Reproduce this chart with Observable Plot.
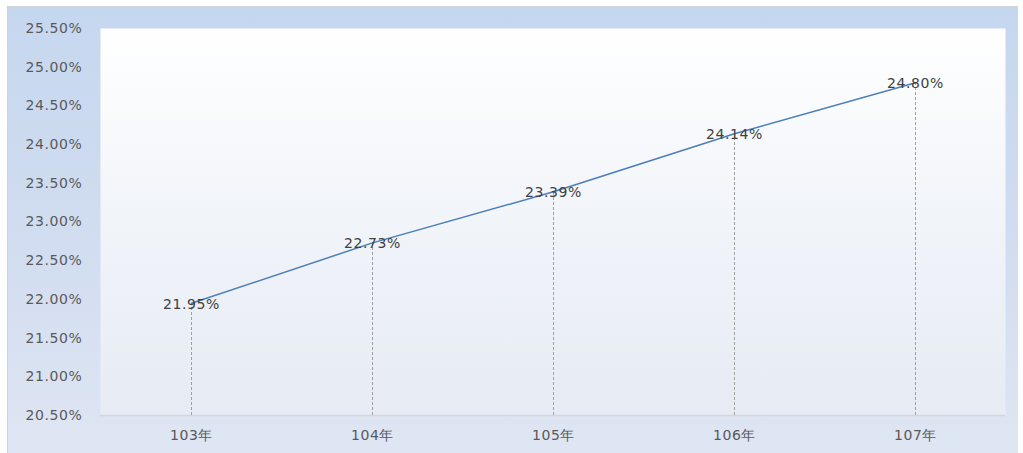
<!DOCTYPE html>
<html>
<head>
<meta charset="utf-8">
<script src="https://cdn.jsdelivr.net/npm/d3@7"></script>
<script src="https://cdn.jsdelivr.net/npm/@observablehq/plot@0.6"></script>
<style>
  html, body { margin: 0; padding: 0; background: #ffffff; }
  #wrap { position: relative; width: 1023px; height: 453px; overflow: hidden; }
  #bg { position: absolute; left: 7px; top: 6px; width: 1010px; height: 447px;
        border-top: 1px solid #d0d4da; border-left: 1px solid #d0d4da;
        background: linear-gradient(to bottom, #c5d7ef 0%, #d2ddf0 55%, #dfe6f3 100%); }
  #chart { position: absolute; left: 0; top: 0; }
  #chart text { letter-spacing: 0.6px; }
</style>
</head>
<body>
<div id="wrap">
  <div id="bg"></div>
  <div id="chart"></div>
</div>
<script>
const years = ["103年", "104年", "105年", "106年", "107年"];
const values = [21.95, 22.73, 23.39, 24.14, 24.80];
const yTicks = [20.5, 21, 21.5, 22, 22.5, 23, 23.5, 24, 24.5, 25, 25.5];

const data = years.map((y, i) => ({year: y, value: values[i]}));

const chart = Plot.plot({
  width: 1023,
  height: 453,
  marginLeft: 100,
  marginRight: 18,
  marginTop: 28,
  marginBottom: 38,
  style: {background: "transparent", fontFamily: "DejaVu Sans, sans-serif", fontSize: "14px", color: "#595959"},
  x: {type: "point", domain: years, padding: 0.5, label: null},
  y: {domain: [20.5, 25.5], label: null},
  marks: [
    Plot.frame({fill: "url(#plotGrad)", stroke: null}),
    Plot.ruleY([20.5], {stroke: "#d6d6d6", strokeWidth: 1.5}),
    Plot.ruleX(data, {x: "year", y1: 20.5, y2: "value", stroke: "#9f9f9f", strokeDasharray: "3,2", strokeWidth: 1}),
    Plot.line(data, {x: "year", y: "value", stroke: "#4a7ebb", strokeWidth: 1.5}),
    Plot.text(data, {x: "year", y: "value", dy: 1, text: d => d.value.toFixed(2) + "%", fill: "#404040", fontSize: 14}),
    Plot.axisY({ticks: yTicks, tickFormat: d => d.toFixed(2) + "%", tickSize: 0, tickPadding: 18, fill: "#595959", fontSize: 14}),
    Plot.axisX({tickSize: 0, tickPadding: 15, fill: "#595959", fontSize: 14})
  ]
});

const svg = d3.select(chart);
const defs = svg.insert("defs", ":first-child");
const g = defs.append("linearGradient").attr("id", "plotGrad").attr("x1", 0).attr("y1", 0).attr("x2", 0).attr("y2", 1);
g.append("stop").attr("offset", "0%").attr("stop-color", "#ffffff");
g.append("stop").attr("offset", "50%").attr("stop-color", "#f1f4f9");
g.append("stop").attr("offset", "100%").attr("stop-color", "#e6ebf4");

document.getElementById("chart").appendChild(chart);
</script>
</body>
</html>
